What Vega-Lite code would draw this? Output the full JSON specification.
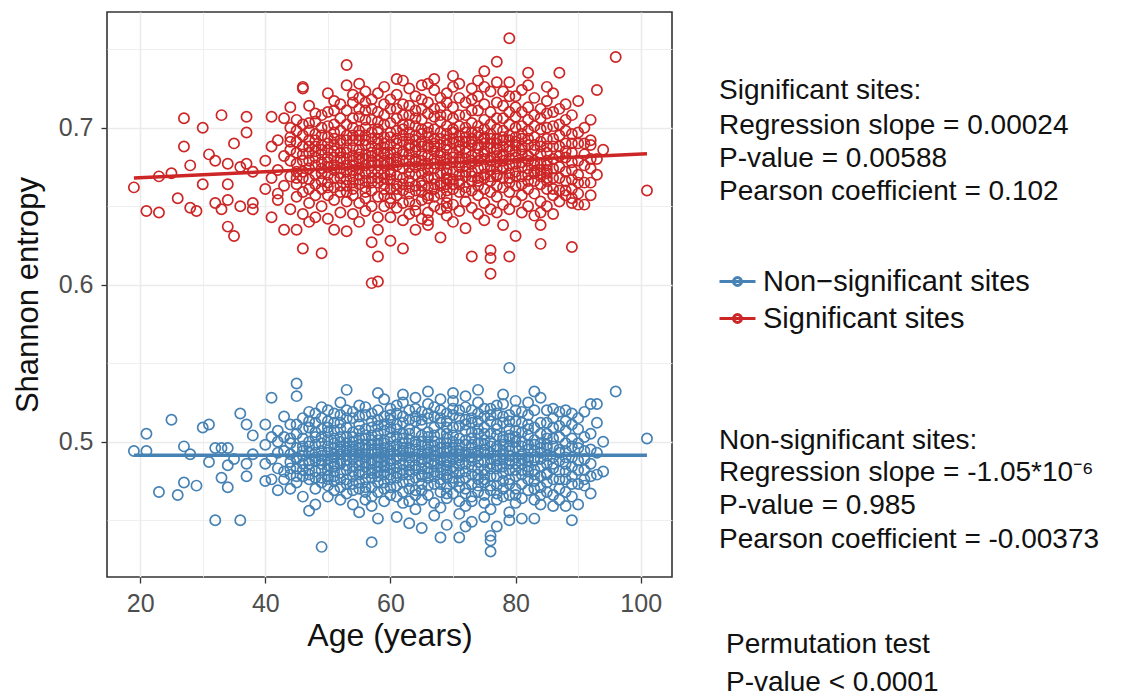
{
"$schema": "https://vega.github.io/schema/vega-lite/v6.json",
"padding": {"left": 11, "top": 11, "right": 0, "bottom": 0},
"background": "white",
"config": {"font": "Liberation Sans", "view": {"stroke": null}, "concat": {"spacing": 46}},
"datasets": {
"sig": [
{"a":19,"e":0.662},{"a":21,"e":0.647},{"a":23,"e":0.646},{"a":23,"e":0.669},{"a":25,"e":0.671},{"a":26,"e":0.655},{"a":27,"e":0.706},{"a":27,"e":0.688},{"a":28,"e":0.676},{"a":28,"e":0.649},{"a":29,"e":0.647},{"a":30,"e":0.700},{"a":30,"e":0.664},{"a":31,"e":0.683},{"a":32,"e":0.679},{"a":32,"e":0.652},{"a":33,"e":0.708},{"a":33,"e":0.648},
{"a":34,"e":0.664},{"a":34,"e":0.654},{"a":34,"e":0.637},{"a":34,"e":0.677},{"a":35,"e":0.690},{"a":35,"e":0.631},{"a":36,"e":0.650},{"a":36,"e":0.675},{"a":37,"e":0.707},{"a":37,"e":0.677},{"a":37,"e":0.697},{"a":38,"e":0.672},{"a":38,"e":0.652},{"a":38,"e":0.648},{"a":40,"e":0.679},{"a":40,"e":0.661},
{"a":41,"e":0.707},{"a":41,"e":0.643},{"a":41,"e":0.668},{"a":41,"e":0.688},{"a":42,"e":0.654},{"a":42,"e":0.658},{"a":42,"e":0.692},{"a":42,"e":0.673},{"a":43,"e":0.706},{"a":43,"e":0.635},{"a":43,"e":0.663},{"a":43,"e":0.682},
{"a":44,"e":0.700},{"a":44,"e":0.669},{"a":44,"e":0.694},{"a":44,"e":0.648},{"a":44,"e":0.686},{"a":44,"e":0.713},
{"a":45,"e":0.635},{"a":45,"e":0.656},{"a":45,"e":0.672},{"a":45,"e":0.684},{"a":45,"e":0.664},{"a":45,"e":0.698},{"a":45,"e":0.677},
{"a":46,"e":0.726},{"a":46,"e":0.725},{"a":46,"e":0.623},{"a":46,"e":0.688},{"a":46,"e":0.668},{"a":46,"e":0.645},{"a":46,"e":0.679},{"a":46,"e":0.702},{"a":46,"e":0.659},
{"a":47,"e":0.692},{"a":47,"e":0.661},{"a":47,"e":0.674},{"a":47,"e":0.684},{"a":47,"e":0.652},{"a":47,"e":0.640},{"a":47,"e":0.703},{"a":47,"e":0.667},
{"a":48,"e":0.704},{"a":48,"e":0.676},{"a":48,"e":0.664},{"a":48,"e":0.688},{"a":48,"e":0.657},{"a":48,"e":0.696},{"a":48,"e":0.643},{"a":48,"e":0.681},
{"a":49,"e":0.620},{"a":49,"e":0.683},{"a":49,"e":0.671},{"a":49,"e":0.661},{"a":49,"e":0.700},{"a":49,"e":0.678},{"a":49,"e":0.650},{"a":49,"e":0.689},{"a":49,"e":0.666},
{"a":50,"e":0.694},{"a":50,"e":0.675},{"a":50,"e":0.665},{"a":50,"e":0.686},{"a":50,"e":0.657},{"a":50,"e":0.710},{"a":50,"e":0.642},{"a":50,"e":0.681},{"a":50,"e":0.670},
{"a":51,"e":0.717},{"a":51,"e":0.673},{"a":51,"e":0.689},{"a":51,"e":0.662},{"a":51,"e":0.654},{"a":51,"e":0.697},{"a":51,"e":0.681},{"a":51,"e":0.668},{"a":51,"e":0.635},{"a":51,"e":0.702},
{"a":52,"e":0.679},{"a":52,"e":0.668},{"a":52,"e":0.692},{"a":52,"e":0.659},{"a":52,"e":0.706},{"a":52,"e":0.646},{"a":52,"e":0.684},{"a":52,"e":0.674},{"a":52,"e":0.690},{"a":52,"e":0.663},
{"a":53,"e":0.740},{"a":53,"e":0.687},{"a":53,"e":0.672},{"a":53,"e":0.663},{"a":53,"e":0.695},{"a":53,"e":0.653},{"a":53,"e":0.680},{"a":53,"e":0.702},{"a":53,"e":0.634},{"a":53,"e":0.676},{"a":53,"e":0.667},
{"a":54,"e":0.716},{"a":54,"e":0.682},{"a":54,"e":0.669},{"a":54,"e":0.692},{"a":54,"e":0.657},{"a":54,"e":0.676},{"a":54,"e":0.700},{"a":54,"e":0.645},{"a":54,"e":0.687},{"a":54,"e":0.661},{"a":54,"e":0.673},
{"a":55,"e":0.719},{"a":55,"e":0.686},{"a":55,"e":0.674},{"a":55,"e":0.664},{"a":55,"e":0.698},{"a":55,"e":0.652},{"a":55,"e":0.681},{"a":55,"e":0.707},{"a":55,"e":0.640},{"a":55,"e":0.692},{"a":55,"e":0.679},{"a":55,"e":0.670},
{"a":56,"e":0.723},{"a":56,"e":0.689},{"a":56,"e":0.676},{"a":56,"e":0.666},{"a":56,"e":0.700},{"a":56,"e":0.655},{"a":56,"e":0.683},{"a":56,"e":0.695},{"a":56,"e":0.647},{"a":56,"e":0.671},{"a":56,"e":0.659},{"a":56,"e":0.711},
{"a":57,"e":0.601},{"a":57,"e":0.684},{"a":57,"e":0.672},{"a":57,"e":0.693},{"a":57,"e":0.660},{"a":57,"e":0.679},{"a":57,"e":0.705},{"a":57,"e":0.650},{"a":57,"e":0.688},{"a":57,"e":0.668},{"a":57,"e":0.627},{"a":57,"e":0.676},
{"a":58,"e":0.618},{"a":58,"e":0.602},{"a":58,"e":0.690},{"a":58,"e":0.676},{"a":58,"e":0.665},{"a":58,"e":0.697},{"a":58,"e":0.656},{"a":58,"e":0.683},{"a":58,"e":0.710},{"a":58,"e":0.643},{"a":58,"e":0.672},{"a":58,"e":0.635},{"a":58,"e":0.686},{"a":58,"e":0.699},
{"a":59,"e":0.687},{"a":59,"e":0.671},{"a":59,"e":0.694},{"a":59,"e":0.661},{"a":59,"e":0.679},{"a":59,"e":0.702},{"a":59,"e":0.650},{"a":59,"e":0.684},{"a":59,"e":0.668},{"a":59,"e":0.715},{"a":59,"e":0.657},{"a":59,"e":0.676},
{"a":60,"e":0.694},{"a":60,"e":0.672},{"a":60,"e":0.661},{"a":60,"e":0.703},{"a":60,"e":0.655},{"a":60,"e":0.684},{"a":60,"e":0.712},{"a":60,"e":0.643},{"a":60,"e":0.677},{"a":60,"e":0.689},{"a":60,"e":0.628},{"a":60,"e":0.667},
{"a":61,"e":0.681},{"a":61,"e":0.669},{"a":61,"e":0.698},{"a":61,"e":0.657},{"a":61,"e":0.676},{"a":61,"e":0.706},{"a":61,"e":0.649},{"a":61,"e":0.693},{"a":61,"e":0.664},{"a":61,"e":0.721},{"a":61,"e":0.686},
{"a":62,"e":0.730},{"a":62,"e":0.691},{"a":62,"e":0.679},{"a":62,"e":0.660},{"a":62,"e":0.699},{"a":62,"e":0.652},{"a":62,"e":0.674},{"a":62,"e":0.708},{"a":62,"e":0.641},{"a":62,"e":0.685},{"a":62,"e":0.623},{"a":62,"e":0.668},
{"a":63,"e":0.683},{"a":63,"e":0.666},{"a":63,"e":0.697},{"a":63,"e":0.658},{"a":63,"e":0.675},{"a":63,"e":0.702},{"a":63,"e":0.645},{"a":63,"e":0.689},{"a":63,"e":0.671},{"a":63,"e":0.714},{"a":63,"e":0.679},{"a":63,"e":0.653},
{"a":64,"e":0.692},{"a":64,"e":0.680},{"a":64,"e":0.663},{"a":64,"e":0.701},{"a":64,"e":0.651},{"a":64,"e":0.678},{"a":64,"e":0.711},{"a":64,"e":0.647},{"a":64,"e":0.670},{"a":64,"e":0.695},{"a":64,"e":0.635},{"a":64,"e":0.685},
{"a":65,"e":0.688},{"a":65,"e":0.671},{"a":65,"e":0.696},{"a":65,"e":0.659},{"a":65,"e":0.683},{"a":65,"e":0.705},{"a":65,"e":0.654},{"a":65,"e":0.691},{"a":65,"e":0.666},{"a":65,"e":0.718},{"a":65,"e":0.676},{"a":65,"e":0.642},
{"a":66,"e":0.682},{"a":66,"e":0.668},{"a":66,"e":0.694},{"a":66,"e":0.655},{"a":66,"e":0.677},{"a":66,"e":0.700},{"a":66,"e":0.646},{"a":66,"e":0.687},{"a":66,"e":0.662},{"a":66,"e":0.709},{"a":66,"e":0.638},{"a":66,"e":0.657},{"a":66,"e":0.641},{"a":66,"e":0.673},
{"a":67,"e":0.693},{"a":67,"e":0.674},{"a":67,"e":0.699},{"a":67,"e":0.661},{"a":67,"e":0.685},{"a":67,"e":0.707},{"a":67,"e":0.650},{"a":67,"e":0.690},{"a":67,"e":0.668},{"a":67,"e":0.724},{"a":67,"e":0.680},{"a":67,"e":0.656},
{"a":68,"e":0.684},{"a":68,"e":0.671},{"a":68,"e":0.697},{"a":68,"e":0.663},{"a":68,"e":0.679},{"a":68,"e":0.704},{"a":68,"e":0.648},{"a":68,"e":0.689},{"a":68,"e":0.665},{"a":68,"e":0.713},{"a":68,"e":0.630},{"a":68,"e":0.676},
{"a":69,"e":0.681},{"a":69,"e":0.667},{"a":69,"e":0.692},{"a":69,"e":0.656},{"a":69,"e":0.673},{"a":69,"e":0.696},{"a":69,"e":0.644},{"a":69,"e":0.686},{"a":69,"e":0.660},{"a":69,"e":0.716},{"a":69,"e":0.649},{"a":69,"e":0.652},{"a":69,"e":0.664},{"a":69,"e":0.671},{"a":69,"e":0.677},
{"a":70,"e":0.733},{"a":70,"e":0.690},{"a":70,"e":0.678},{"a":70,"e":0.699},{"a":70,"e":0.661},{"a":70,"e":0.684},{"a":70,"e":0.706},{"a":70,"e":0.651},{"a":70,"e":0.693},{"a":70,"e":0.667},{"a":70,"e":0.640},{"a":70,"e":0.672},
{"a":71,"e":0.686},{"a":71,"e":0.670},{"a":71,"e":0.695},{"a":71,"e":0.659},{"a":71,"e":0.681},{"a":71,"e":0.701},{"a":71,"e":0.647},{"a":71,"e":0.688},{"a":71,"e":0.664},{"a":71,"e":0.719},{"a":71,"e":0.675},
{"a":72,"e":0.691},{"a":72,"e":0.676},{"a":72,"e":0.700},{"a":72,"e":0.662},{"a":72,"e":0.684},{"a":72,"e":0.708},{"a":72,"e":0.653},{"a":72,"e":0.694},{"a":72,"e":0.669},{"a":72,"e":0.636},{"a":72,"e":0.680},
{"a":73,"e":0.618},{"a":73,"e":0.689},{"a":73,"e":0.672},{"a":73,"e":0.697},{"a":73,"e":0.660},{"a":73,"e":0.682},{"a":73,"e":0.703},{"a":73,"e":0.649},{"a":73,"e":0.691},{"a":73,"e":0.666},{"a":73,"e":0.725},{"a":73,"e":0.677},
{"a":74,"e":0.683},{"a":74,"e":0.668},{"a":74,"e":0.694},{"a":74,"e":0.657},{"a":74,"e":0.679},{"a":74,"e":0.701},{"a":74,"e":0.645},{"a":74,"e":0.687},{"a":74,"e":0.663},{"a":74,"e":0.711},{"a":74,"e":0.674},
{"a":75,"e":0.736},{"a":75,"e":0.690},{"a":75,"e":0.675},{"a":75,"e":0.699},{"a":75,"e":0.661},{"a":75,"e":0.685},{"a":75,"e":0.705},{"a":75,"e":0.652},{"a":75,"e":0.693},{"a":75,"e":0.670},{"a":75,"e":0.641},{"a":75,"e":0.680},
{"a":76,"e":0.622},{"a":76,"e":0.617},{"a":76,"e":0.607},{"a":76,"e":0.687},{"a":76,"e":0.673},{"a":76,"e":0.696},{"a":76,"e":0.659},{"a":76,"e":0.681},{"a":76,"e":0.702},{"a":76,"e":0.648},{"a":76,"e":0.690},{"a":76,"e":0.666},{"a":76,"e":0.676},
{"a":77,"e":0.742},{"a":77,"e":0.682},{"a":77,"e":0.669},{"a":77,"e":0.693},{"a":77,"e":0.656},{"a":77,"e":0.678},{"a":77,"e":0.699},{"a":77,"e":0.646},{"a":77,"e":0.687},{"a":77,"e":0.663},{"a":77,"e":0.716},{"a":77,"e":0.674},
{"a":78,"e":0.688},{"a":78,"e":0.674},{"a":78,"e":0.698},{"a":78,"e":0.662},{"a":78,"e":0.683},{"a":78,"e":0.706},{"a":78,"e":0.651},{"a":78,"e":0.692},{"a":78,"e":0.668},{"a":78,"e":0.638},{"a":78,"e":0.679},
{"a":79,"e":0.757},{"a":79,"e":0.618},{"a":79,"e":0.685},{"a":79,"e":0.671},{"a":79,"e":0.695},{"a":79,"e":0.659},{"a":79,"e":0.680},{"a":79,"e":0.702},{"a":79,"e":0.648},{"a":79,"e":0.688},{"a":79,"e":0.720},{"a":79,"e":0.665},
{"a":80,"e":0.631},{"a":80,"e":0.691},{"a":80,"e":0.677},{"a":80,"e":0.700},{"a":80,"e":0.663},{"a":80,"e":0.685},{"a":80,"e":0.707},{"a":80,"e":0.653},{"a":80,"e":0.694},{"a":80,"e":0.672},
{"a":81,"e":0.683},{"a":81,"e":0.669},{"a":81,"e":0.693},{"a":81,"e":0.657},{"a":81,"e":0.678},{"a":81,"e":0.710},{"a":81,"e":0.646},{"a":81,"e":0.696},{"a":81,"e":0.664},
{"a":82,"e":0.735},{"a":82,"e":0.689},{"a":82,"e":0.674},{"a":82,"e":0.698},{"a":82,"e":0.661},{"a":82,"e":0.682},{"a":82,"e":0.650},{"a":82,"e":0.713},{"a":82,"e":0.670},
{"a":83,"e":0.686},{"a":83,"e":0.671},{"a":83,"e":0.694},{"a":83,"e":0.658},{"a":83,"e":0.701},{"a":83,"e":0.644},{"a":83,"e":0.679},{"a":83,"e":0.666},
{"a":84,"e":0.626},{"a":84,"e":0.646},{"a":84,"e":0.638},{"a":84,"e":0.691},{"a":84,"e":0.677},{"a":84,"e":0.699},{"a":84,"e":0.664},{"a":84,"e":0.706},{"a":84,"e":0.653},{"a":84,"e":0.683},
{"a":85,"e":0.666},{"a":85,"e":0.671},{"a":85,"e":0.676},{"a":85,"e":0.661},{"a":85,"e":0.684},{"a":85,"e":0.693},{"a":85,"e":0.709},{"a":85,"e":0.650},{"a":85,"e":0.726},{"a":85,"e":0.668},{"a":85,"e":0.673},
{"a":86,"e":0.657},{"a":86,"e":0.661},{"a":86,"e":0.688},{"a":86,"e":0.701},{"a":86,"e":0.674},{"a":86,"e":0.645},{"a":86,"e":0.680},
{"a":87,"e":0.735},{"a":87,"e":0.682},{"a":87,"e":0.695},{"a":87,"e":0.668},{"a":87,"e":0.653},{"a":87,"e":0.712},
{"a":88,"e":0.657},{"a":88,"e":0.672},{"a":88,"e":0.690},{"a":88,"e":0.660},{"a":88,"e":0.705},{"a":88,"e":0.681},
{"a":89,"e":0.624},{"a":89,"e":0.655},{"a":89,"e":0.652},{"a":89,"e":0.696},{"a":89,"e":0.678},{"a":89,"e":0.684},{"a":89,"e":0.667},
{"a":90,"e":0.717},{"a":90,"e":0.658},{"a":90,"e":0.670},{"a":90,"e":0.690},{"a":90,"e":0.651},
{"a":91,"e":0.651},{"a":91,"e":0.665},{"a":91,"e":0.700},{"a":91,"e":0.683},
{"a":92,"e":0.705},{"a":92,"e":0.692},{"a":92,"e":0.689},{"a":92,"e":0.657},{"a":92,"e":0.674},
{"a":93,"e":0.724},{"a":93,"e":0.680},{"a":93,"e":0.670},{"a":94,"e":0.686},{"a":96,"e":0.745},{"a":101,"e":0.660},
{"a":44,"e":0.679},{"a":44,"e":0.691},{"a":45,"e":0.691},{"a":45,"e":0.705},{"a":45,"e":0.668},{"a":46,"e":0.672},{"a":46,"e":0.695},{"a":46,"e":0.683},
{"a":47,"e":0.679},{"a":47,"e":0.698},{"a":47,"e":0.714},{"a":47,"e":0.688},{"a":48,"e":0.670},{"a":48,"e":0.692},{"a":48,"e":0.709},{"a":48,"e":0.685},
{"a":49,"e":0.674},{"a":49,"e":0.695},{"a":49,"e":0.708},{"a":49,"e":0.686},{"a":50,"e":0.678},{"a":50,"e":0.690},{"a":50,"e":0.701},{"a":50,"e":0.662},{"a":50,"e":0.722},
{"a":51,"e":0.676},{"a":51,"e":0.693},{"a":51,"e":0.711},{"a":51,"e":0.685},{"a":52,"e":0.671},{"a":52,"e":0.698},{"a":52,"e":0.715},{"a":52,"e":0.681},
{"a":53,"e":0.684},{"a":53,"e":0.692},{"a":53,"e":0.711},{"a":53,"e":0.659},{"a":53,"e":0.727},{"a":54,"e":0.679},{"a":54,"e":0.695},{"a":54,"e":0.706},{"a":54,"e":0.665},{"a":54,"e":0.721},
{"a":55,"e":0.683},{"a":55,"e":0.695},{"a":55,"e":0.712},{"a":55,"e":0.667},{"a":55,"e":0.728},{"a":56,"e":0.680},{"a":56,"e":0.692},{"a":56,"e":0.705},{"a":56,"e":0.662},{"a":56,"e":0.716},
{"a":57,"e":0.682},{"a":57,"e":0.697},{"a":57,"e":0.712},{"a":57,"e":0.665},{"a":57,"e":0.718},{"a":58,"e":0.679},{"a":58,"e":0.693},{"a":58,"e":0.704},{"a":58,"e":0.668},{"a":58,"e":0.722},
{"a":59,"e":0.683},{"a":59,"e":0.690},{"a":59,"e":0.708},{"a":59,"e":0.664},{"a":59,"e":0.726},{"a":60,"e":0.680},{"a":60,"e":0.697},{"a":60,"e":0.718},{"a":60,"e":0.670},{"a":60,"e":0.652},
{"a":61,"e":0.678},{"a":61,"e":0.690},{"a":61,"e":0.712},{"a":61,"e":0.661},{"a":61,"e":0.731},{"a":62,"e":0.683},{"a":62,"e":0.695},{"a":62,"e":0.715},{"a":62,"e":0.664},{"a":62,"e":0.702},
{"a":63,"e":0.687},{"a":63,"e":0.693},{"a":63,"e":0.708},{"a":63,"e":0.662},{"a":63,"e":0.725},{"a":64,"e":0.675},{"a":64,"e":0.688},{"a":64,"e":0.720},{"a":64,"e":0.660},{"a":64,"e":0.706},
{"a":65,"e":0.679},{"a":65,"e":0.699},{"a":65,"e":0.712},{"a":65,"e":0.663},{"a":65,"e":0.727},{"a":66,"e":0.689},{"a":66,"e":0.697},{"a":66,"e":0.716},{"a":66,"e":0.669},{"a":66,"e":0.728},
{"a":67,"e":0.677},{"a":67,"e":0.688},{"a":67,"e":0.712},{"a":67,"e":0.664},{"a":67,"e":0.731},{"a":68,"e":0.682},{"a":68,"e":0.693},{"a":68,"e":0.719},{"a":68,"e":0.658},{"a":68,"e":0.708},
{"a":69,"e":0.689},{"a":69,"e":0.701},{"a":69,"e":0.708},{"a":69,"e":0.668},{"a":69,"e":0.722},{"a":70,"e":0.681},{"a":70,"e":0.697},{"a":70,"e":0.713},{"a":70,"e":0.664},{"a":70,"e":0.726},
{"a":71,"e":0.678},{"a":71,"e":0.691},{"a":71,"e":0.708},{"a":71,"e":0.666},{"a":71,"e":0.728},{"a":72,"e":0.687},{"a":72,"e":0.697},{"a":72,"e":0.716},{"a":72,"e":0.672},{"a":72,"e":0.659},
{"a":73,"e":0.679},{"a":73,"e":0.693},{"a":73,"e":0.711},{"a":73,"e":0.669},{"a":73,"e":0.718},{"a":74,"e":0.689},{"a":74,"e":0.697},{"a":74,"e":0.720},{"a":74,"e":0.666},{"a":74,"e":0.730},
{"a":75,"e":0.683},{"a":75,"e":0.694},{"a":75,"e":0.715},{"a":75,"e":0.668},{"a":75,"e":0.726},{"a":76,"e":0.679},{"a":76,"e":0.693},{"a":76,"e":0.710},{"a":76,"e":0.669},{"a":76,"e":0.723},
{"a":77,"e":0.686},{"a":77,"e":0.690},{"a":77,"e":0.706},{"a":77,"e":0.670},{"a":77,"e":0.729},{"a":78,"e":0.682},{"a":78,"e":0.694},{"a":78,"e":0.714},{"a":78,"e":0.675},{"a":78,"e":0.723},
{"a":79,"e":0.676},{"a":79,"e":0.692},{"a":79,"e":0.710},{"a":79,"e":0.668},{"a":79,"e":0.729},{"a":80,"e":0.681},{"a":80,"e":0.689},{"a":80,"e":0.713},{"a":80,"e":0.669},{"a":80,"e":0.720},
{"a":81,"e":0.675},{"a":81,"e":0.688},{"a":81,"e":0.701},{"a":81,"e":0.686},{"a":81,"e":0.724},{"a":82,"e":0.679},{"a":82,"e":0.693},{"a":82,"e":0.705},{"a":82,"e":0.666},{"a":82,"e":0.727},
{"a":83,"e":0.676},{"a":83,"e":0.689},{"a":83,"e":0.708},{"a":83,"e":0.672},{"a":83,"e":0.719},{"a":84,"e":0.671},{"a":84,"e":0.669},{"a":84,"e":0.673},{"a":84,"e":0.688},{"a":84,"e":0.712},
{"a":85,"e":0.679},{"a":85,"e":0.688},{"a":85,"e":0.700},{"a":85,"e":0.717},{"a":86,"e":0.668},{"a":86,"e":0.693},{"a":86,"e":0.710},{"a":86,"e":0.722},
{"a":87,"e":0.675},{"a":87,"e":0.688},{"a":87,"e":0.702},{"a":87,"e":0.660},{"a":88,"e":0.685},{"a":88,"e":0.698},{"a":88,"e":0.666},{"a":88,"e":0.715},
{"a":89,"e":0.661},{"a":89,"e":0.690},{"a":89,"e":0.708},{"a":89,"e":0.673},{"a":90,"e":0.679},{"a":90,"e":0.697},{"a":90,"e":0.665},{"a":91,"e":0.676},{"a":91,"e":0.690},{"a":92,"e":0.680},{"a":92,"e":0.665}
],
"non": [
{"a":19,"e":0.494},{"a":21,"e":0.494},{"a":21,"e":0.505},{"a":23,"e":0.468},{"a":25,"e":0.514},{"a":26,"e":0.466},{"a":27,"e":0.474},{"a":27,"e":0.497},{"a":28,"e":0.492},{"a":29,"e":0.472},{"a":30,"e":0.509},{"a":31,"e":0.511},{"a":31,"e":0.487},
{"a":32,"e":0.450},{"a":32,"e":0.496},{"a":33,"e":0.477},{"a":33,"e":0.496},{"a":34,"e":0.471},{"a":34,"e":0.485},{"a":34,"e":0.496},{"a":35,"e":0.489},{"a":36,"e":0.450},{"a":36,"e":0.518},{"a":37,"e":0.511},{"a":37,"e":0.478},{"a":37,"e":0.486},{"a":38,"e":0.504},{"a":38,"e":0.492},
{"a":40,"e":0.511},{"a":40,"e":0.475},{"a":40,"e":0.498},{"a":40,"e":0.486},{"a":41,"e":0.528},{"a":41,"e":0.489},{"a":41,"e":0.476},{"a":41,"e":0.503},
{"a":42,"e":0.500},{"a":42,"e":0.483},{"a":42,"e":0.507},{"a":42,"e":0.469},{"a":42,"e":0.493},{"a":43,"e":0.476},{"a":43,"e":0.494},{"a":43,"e":0.516},{"a":43,"e":0.503},{"a":43,"e":0.481},
{"a":44,"e":0.487},{"a":44,"e":0.499},{"a":44,"e":0.511},{"a":44,"e":0.470},{"a":44,"e":0.492},{"a":44,"e":0.479},
{"a":45,"e":0.474},{"a":45,"e":0.537},{"a":45,"e":0.529},{"a":45,"e":0.496},{"a":45,"e":0.505},{"a":45,"e":0.483},{"a":45,"e":0.490},
{"a":46,"e":0.491},{"a":46,"e":0.515},{"a":46,"e":0.478},{"a":46,"e":0.502},{"a":46,"e":0.465},{"a":46,"e":0.486},{"a":46,"e":0.497},
{"a":47,"e":0.456},{"a":47,"e":0.488},{"a":47,"e":0.509},{"a":47,"e":0.497},{"a":47,"e":0.476},{"a":47,"e":0.519},{"a":47,"e":0.482},{"a":47,"e":0.493},
{"a":48,"e":0.493},{"a":48,"e":0.481},{"a":48,"e":0.503},{"a":48,"e":0.470},{"a":48,"e":0.512},{"a":48,"e":0.460},{"a":48,"e":0.488},{"a":48,"e":0.498},
{"a":49,"e":0.433},{"a":49,"e":0.499},{"a":49,"e":0.486},{"a":49,"e":0.477},{"a":49,"e":0.508},{"a":49,"e":0.494},{"a":49,"e":0.522},{"a":49,"e":0.482},{"a":49,"e":0.491},
{"a":50,"e":0.489},{"a":50,"e":0.501},{"a":50,"e":0.472},{"a":50,"e":0.513},{"a":50,"e":0.482},{"a":50,"e":0.465},{"a":50,"e":0.497},{"a":50,"e":0.478},{"a":50,"e":0.506},
{"a":51,"e":0.496},{"a":51,"e":0.484},{"a":51,"e":0.507},{"a":51,"e":0.478},{"a":51,"e":0.518},{"a":51,"e":0.490},{"a":51,"e":0.469},{"a":51,"e":0.502},{"a":51,"e":0.481},
{"a":52,"e":0.492},{"a":52,"e":0.503},{"a":52,"e":0.480},{"a":52,"e":0.512},{"a":52,"e":0.471},{"a":52,"e":0.497},{"a":52,"e":0.525},{"a":52,"e":0.486},{"a":52,"e":0.463},{"a":52,"e":0.508},
{"a":53,"e":0.533},{"a":53,"e":0.488},{"a":53,"e":0.499},{"a":53,"e":0.476},{"a":53,"e":0.509},{"a":53,"e":0.467},{"a":53,"e":0.494},{"a":53,"e":0.482},{"a":53,"e":0.515},{"a":53,"e":0.491},
{"a":54,"e":0.495},{"a":54,"e":0.484},{"a":54,"e":0.506},{"a":54,"e":0.473},{"a":54,"e":0.515},{"a":54,"e":0.489},{"a":54,"e":0.460},{"a":54,"e":0.500},{"a":54,"e":0.478},{"a":54,"e":0.492},
{"a":55,"e":0.491},{"a":55,"e":0.502},{"a":55,"e":0.479},{"a":55,"e":0.511},{"a":55,"e":0.470},{"a":55,"e":0.496},{"a":55,"e":0.523},{"a":55,"e":0.485},{"a":55,"e":0.455},{"a":55,"e":0.507},{"a":55,"e":0.488},
{"a":56,"e":0.498},{"a":56,"e":0.487},{"a":56,"e":0.508},{"a":56,"e":0.476},{"a":56,"e":0.517},{"a":56,"e":0.492},{"a":56,"e":0.463},{"a":56,"e":0.502},{"a":56,"e":0.480},{"a":56,"e":0.495},{"a":56,"e":0.471},
{"a":57,"e":0.436},{"a":57,"e":0.493},{"a":57,"e":0.482},{"a":57,"e":0.504},{"a":57,"e":0.471},{"a":57,"e":0.513},{"a":57,"e":0.488},{"a":57,"e":0.498},{"a":57,"e":0.459},{"a":57,"e":0.477},{"a":57,"e":0.509},{"a":57,"e":0.486},
{"a":58,"e":0.531},{"a":58,"e":0.490},{"a":58,"e":0.501},{"a":58,"e":0.478},{"a":58,"e":0.510},{"a":58,"e":0.468},{"a":58,"e":0.495},{"a":58,"e":0.520},{"a":58,"e":0.484},{"a":58,"e":0.451},{"a":58,"e":0.487},{"a":58,"e":0.505},
{"a":59,"e":0.496},{"a":59,"e":0.485},{"a":59,"e":0.507},{"a":59,"e":0.474},{"a":59,"e":0.516},{"a":59,"e":0.491},{"a":59,"e":0.462},{"a":59,"e":0.501},{"a":59,"e":0.481},{"a":59,"e":0.527},{"a":59,"e":0.479},{"a":59,"e":0.493},
{"a":60,"e":0.502},{"a":60,"e":0.488},{"a":60,"e":0.514},{"a":60,"e":0.476},{"a":60,"e":0.497},{"a":60,"e":0.466},{"a":60,"e":0.509},{"a":60,"e":0.483},{"a":60,"e":0.521},{"a":60,"e":0.492},{"a":60,"e":0.471},
{"a":61,"e":0.489},{"a":61,"e":0.477},{"a":61,"e":0.503},{"a":61,"e":0.465},{"a":61,"e":0.511},{"a":61,"e":0.495},{"a":61,"e":0.452},{"a":61,"e":0.498},{"a":61,"e":0.484},{"a":61,"e":0.518},
{"a":62,"e":0.505},{"a":62,"e":0.491},{"a":62,"e":0.516},{"a":62,"e":0.479},{"a":62,"e":0.525},{"a":62,"e":0.486},{"a":62,"e":0.468},{"a":62,"e":0.499},{"a":62,"e":0.474},{"a":62,"e":0.530},{"a":62,"e":0.494},
{"a":63,"e":0.487},{"a":63,"e":0.475},{"a":63,"e":0.501},{"a":63,"e":0.462},{"a":63,"e":0.508},{"a":63,"e":0.493},{"a":63,"e":0.448},{"a":63,"e":0.496},{"a":63,"e":0.482},{"a":63,"e":0.514},{"a":63,"e":0.470},
{"a":64,"e":0.500},{"a":64,"e":0.485},{"a":64,"e":0.513},{"a":64,"e":0.469},{"a":64,"e":0.521},{"a":64,"e":0.490},{"a":64,"e":0.457},{"a":64,"e":0.506},{"a":64,"e":0.477},{"a":64,"e":0.528},
{"a":65,"e":0.492},{"a":65,"e":0.478},{"a":65,"e":0.504},{"a":65,"e":0.463},{"a":65,"e":0.511},{"a":65,"e":0.497},{"a":65,"e":0.445},{"a":65,"e":0.489},{"a":65,"e":0.483},{"a":65,"e":0.519},{"a":65,"e":0.473},
{"a":66,"e":0.503},{"a":66,"e":0.490},{"a":66,"e":0.515},{"a":66,"e":0.480},{"a":66,"e":0.524},{"a":66,"e":0.487},{"a":66,"e":0.466},{"a":66,"e":0.498},{"a":66,"e":0.472},{"a":66,"e":0.532},{"a":66,"e":0.495},
{"a":67,"e":0.486},{"a":67,"e":0.473},{"a":67,"e":0.500},{"a":67,"e":0.461},{"a":67,"e":0.509},{"a":67,"e":0.494},{"a":67,"e":0.453},{"a":67,"e":0.491},{"a":67,"e":0.481},{"a":67,"e":0.516},
{"a":68,"e":0.499},{"a":68,"e":0.484},{"a":68,"e":0.512},{"a":68,"e":0.468},{"a":68,"e":0.520},{"a":68,"e":0.488},{"a":68,"e":0.458},{"a":68,"e":0.505},{"a":68,"e":0.476},{"a":68,"e":0.527},{"a":68,"e":0.439},{"a":68,"e":0.493},
{"a":69,"e":0.490},{"a":69,"e":0.477},{"a":69,"e":0.505},{"a":69,"e":0.464},{"a":69,"e":0.513},{"a":69,"e":0.496},{"a":69,"e":0.447},{"a":69,"e":0.487},{"a":69,"e":0.482},{"a":69,"e":0.518},{"a":69,"e":0.471},{"a":69,"e":0.499},{"a":69,"e":0.485},
{"a":70,"e":0.504},{"a":70,"e":0.492},{"a":70,"e":0.517},{"a":70,"e":0.481},{"a":70,"e":0.526},{"a":70,"e":0.489},{"a":70,"e":0.467},{"a":70,"e":0.500},{"a":70,"e":0.474},{"a":70,"e":0.531},
{"a":71,"e":0.488},{"a":71,"e":0.475},{"a":71,"e":0.502},{"a":71,"e":0.462},{"a":71,"e":0.510},{"a":71,"e":0.494},{"a":71,"e":0.454},{"a":71,"e":0.492},{"a":71,"e":0.480},{"a":71,"e":0.515},{"a":71,"e":0.439},
{"a":72,"e":0.501},{"a":72,"e":0.486},{"a":72,"e":0.514},{"a":72,"e":0.470},{"a":72,"e":0.522},{"a":72,"e":0.491},{"a":72,"e":0.459},{"a":72,"e":0.507},{"a":72,"e":0.477},{"a":72,"e":0.529},{"a":72,"e":0.446},
{"a":73,"e":0.493},{"a":73,"e":0.479},{"a":73,"e":0.506},{"a":73,"e":0.465},{"a":73,"e":0.512},{"a":73,"e":0.498},{"a":73,"e":0.449},{"a":73,"e":0.490},{"a":73,"e":0.484},{"a":73,"e":0.520},{"a":73,"e":0.473},
{"a":74,"e":0.505},{"a":74,"e":0.491},{"a":74,"e":0.518},{"a":74,"e":0.479},{"a":74,"e":0.525},{"a":74,"e":0.487},{"a":74,"e":0.468},{"a":74,"e":0.499},{"a":74,"e":0.472},{"a":74,"e":0.533},
{"a":75,"e":0.487},{"a":75,"e":0.474},{"a":75,"e":0.501},{"a":75,"e":0.461},{"a":75,"e":0.509},{"a":75,"e":0.495},{"a":75,"e":0.452},{"a":75,"e":0.493},{"a":75,"e":0.482},{"a":75,"e":0.516},{"a":75,"e":0.476},
{"a":76,"e":0.430},{"a":76,"e":0.437},{"a":76,"e":0.440},{"a":76,"e":0.500},{"a":76,"e":0.486},{"a":76,"e":0.513},{"a":76,"e":0.469},{"a":76,"e":0.521},{"a":76,"e":0.489},{"a":76,"e":0.457},{"a":76,"e":0.505},{"a":76,"e":0.478},
{"a":77,"e":0.491},{"a":77,"e":0.478},{"a":77,"e":0.504},{"a":77,"e":0.463},{"a":77,"e":0.511},{"a":77,"e":0.497},{"a":77,"e":0.446},{"a":77,"e":0.488},{"a":77,"e":0.483},{"a":77,"e":0.518},{"a":77,"e":0.472},
{"a":78,"e":0.503},{"a":78,"e":0.489},{"a":78,"e":0.516},{"a":78,"e":0.480},{"a":78,"e":0.524},{"a":78,"e":0.492},{"a":78,"e":0.465},{"a":78,"e":0.501},{"a":78,"e":0.475},{"a":78,"e":0.530},
{"a":79,"e":0.547},{"a":79,"e":0.450},{"a":79,"e":0.488},{"a":79,"e":0.476},{"a":79,"e":0.502},{"a":79,"e":0.466},{"a":79,"e":0.508},{"a":79,"e":0.494},{"a":79,"e":0.455},{"a":79,"e":0.497},{"a":79,"e":0.482},{"a":79,"e":0.517},
{"a":80,"e":0.500},{"a":80,"e":0.486},{"a":80,"e":0.513},{"a":80,"e":0.470},{"a":80,"e":0.520},{"a":80,"e":0.490},{"a":80,"e":0.461},{"a":80,"e":0.507},{"a":80,"e":0.478},
{"a":81,"e":0.492},{"a":81,"e":0.479},{"a":81,"e":0.506},{"a":81,"e":0.464},{"a":81,"e":0.512},{"a":81,"e":0.497},{"a":81,"e":0.451},{"a":81,"e":0.486},
{"a":82,"e":0.504},{"a":82,"e":0.490},{"a":82,"e":0.517},{"a":82,"e":0.481},{"a":82,"e":0.525},{"a":82,"e":0.488},{"a":82,"e":0.469},{"a":82,"e":0.498},
{"a":83,"e":0.532},{"a":83,"e":0.451},{"a":83,"e":0.488},{"a":83,"e":0.475},{"a":83,"e":0.501},{"a":83,"e":0.463},{"a":83,"e":0.509},{"a":83,"e":0.494},{"a":83,"e":0.482},
{"a":84,"e":0.528},{"a":84,"e":0.499},{"a":84,"e":0.484},{"a":84,"e":0.512},{"a":84,"e":0.471},{"a":84,"e":0.493},{"a":84,"e":0.478},{"a":84,"e":0.460},
{"a":85,"e":0.491},{"a":85,"e":0.480},{"a":85,"e":0.505},{"a":85,"e":0.468},{"a":85,"e":0.496},{"a":85,"e":0.474},{"a":85,"e":0.502},{"a":85,"e":0.486},
{"a":86,"e":0.497},{"a":86,"e":0.483},{"a":86,"e":0.509},{"a":86,"e":0.466},{"a":86,"e":0.515},{"a":86,"e":0.490},{"a":86,"e":0.459},
{"a":87,"e":0.488},{"a":87,"e":0.476},{"a":87,"e":0.503},{"a":87,"e":0.470},{"a":87,"e":0.519},{"a":87,"e":0.495},
{"a":88,"e":0.459},{"a":88,"e":0.494},{"a":88,"e":0.481},{"a":88,"e":0.507},{"a":88,"e":0.468},{"a":88,"e":0.513},{"a":88,"e":0.486},
{"a":89,"e":0.490},{"a":89,"e":0.478},{"a":89,"e":0.502},{"a":89,"e":0.465},{"a":89,"e":0.511},{"a":89,"e":0.450},{"a":89,"e":0.484},
{"a":90,"e":0.496},{"a":90,"e":0.482},{"a":90,"e":0.508},{"a":90,"e":0.473},{"a":90,"e":0.499},
{"a":91,"e":0.472},{"a":91,"e":0.519},{"a":91,"e":0.489},{"a":91,"e":0.476},{"a":91,"e":0.503},
{"a":92,"e":0.524},{"a":92,"e":0.486},{"a":92,"e":0.467},{"a":92,"e":0.495},
{"a":93,"e":0.479},{"a":93,"e":0.524},{"a":93,"e":0.493},{"a":93,"e":0.512},{"a":94,"e":0.481},{"a":94,"e":0.500},{"a":96,"e":0.532},{"a":101,"e":0.502},
{"a":44,"e":0.483},{"a":44,"e":0.502},{"a":45,"e":0.478},{"a":45,"e":0.511},{"a":45,"e":0.489},{"a":46,"e":0.494},{"a":46,"e":0.508},{"a":46,"e":0.482},
{"a":47,"e":0.486},{"a":47,"e":0.500},{"a":47,"e":0.513},{"a":47,"e":0.479},{"a":48,"e":0.490},{"a":48,"e":0.506},{"a":48,"e":0.477},{"a":48,"e":0.518},
{"a":49,"e":0.488},{"a":49,"e":0.503},{"a":49,"e":0.515},{"a":49,"e":0.474},{"a":50,"e":0.493},{"a":50,"e":0.509},{"a":50,"e":0.485},{"a":50,"e":0.520},{"a":50,"e":0.476},
{"a":51,"e":0.492},{"a":51,"e":0.499},{"a":51,"e":0.512},{"a":51,"e":0.486},{"a":51,"e":0.475},{"a":52,"e":0.488},{"a":52,"e":0.495},{"a":52,"e":0.517},{"a":52,"e":0.476},{"a":52,"e":0.500},
{"a":53,"e":0.485},{"a":53,"e":0.503},{"a":53,"e":0.520},{"a":53,"e":0.473},{"a":53,"e":0.496},{"a":54,"e":0.497},{"a":54,"e":0.503},{"a":54,"e":0.519},{"a":54,"e":0.481},{"a":54,"e":0.469},
{"a":55,"e":0.493},{"a":55,"e":0.498},{"a":55,"e":0.516},{"a":55,"e":0.481},{"a":55,"e":0.474},{"a":56,"e":0.490},{"a":56,"e":0.504},{"a":56,"e":0.522},{"a":56,"e":0.484},{"a":56,"e":0.468},
{"a":57,"e":0.495},{"a":57,"e":0.501},{"a":57,"e":0.518},{"a":57,"e":0.480},{"a":57,"e":0.465},{"a":58,"e":0.493},{"a":58,"e":0.498},{"a":58,"e":0.514},{"a":58,"e":0.481},{"a":58,"e":0.474},
{"a":59,"e":0.488},{"a":59,"e":0.499},{"a":59,"e":0.511},{"a":59,"e":0.484},{"a":59,"e":0.470},{"a":60,"e":0.494},{"a":60,"e":0.506},{"a":60,"e":0.517},{"a":60,"e":0.479},{"a":60,"e":0.486},
{"a":61,"e":0.491},{"a":61,"e":0.508},{"a":61,"e":0.523},{"a":61,"e":0.480},{"a":61,"e":0.472},{"a":62,"e":0.496},{"a":62,"e":0.502},{"a":62,"e":0.512},{"a":62,"e":0.482},{"a":62,"e":0.461},
{"a":63,"e":0.490},{"a":63,"e":0.505},{"a":63,"e":0.520},{"a":63,"e":0.479},{"a":63,"e":0.485},{"a":64,"e":0.495},{"a":64,"e":0.498},{"a":64,"e":0.516},{"a":64,"e":0.482},{"a":64,"e":0.466},
{"a":65,"e":0.487},{"a":65,"e":0.500},{"a":65,"e":0.514},{"a":65,"e":0.479},{"a":65,"e":0.469},{"a":66,"e":0.493},{"a":66,"e":0.506},{"a":66,"e":0.518},{"a":66,"e":0.483},{"a":66,"e":0.477},
{"a":67,"e":0.497},{"a":67,"e":0.504},{"a":67,"e":0.522},{"a":67,"e":0.478},{"a":67,"e":0.488},{"a":68,"e":0.489},{"a":68,"e":0.496},{"a":68,"e":0.515},{"a":68,"e":0.480},{"a":68,"e":0.473},
{"a":69,"e":0.494},{"a":69,"e":0.502},{"a":69,"e":0.509},{"a":69,"e":0.479},{"a":69,"e":0.467},{"a":70,"e":0.496},{"a":70,"e":0.509},{"a":70,"e":0.521},{"a":70,"e":0.484},{"a":70,"e":0.477},
{"a":71,"e":0.490},{"a":71,"e":0.498},{"a":71,"e":0.520},{"a":71,"e":0.485},{"a":71,"e":0.471},{"a":72,"e":0.493},{"a":72,"e":0.498},{"a":72,"e":0.511},{"a":72,"e":0.481},{"a":72,"e":0.467},
{"a":73,"e":0.496},{"a":73,"e":0.502},{"a":73,"e":0.515},{"a":73,"e":0.488},{"a":73,"e":0.462},{"a":74,"e":0.494},{"a":74,"e":0.508},{"a":74,"e":0.513},{"a":74,"e":0.483},{"a":74,"e":0.476},
{"a":75,"e":0.498},{"a":75,"e":0.505},{"a":75,"e":0.521},{"a":75,"e":0.479},{"a":75,"e":0.466},{"a":76,"e":0.493},{"a":76,"e":0.497},{"a":76,"e":0.517},{"a":76,"e":0.483},{"a":76,"e":0.472},
{"a":77,"e":0.495},{"a":77,"e":0.508},{"a":77,"e":0.523},{"a":77,"e":0.485},{"a":77,"e":0.467},{"a":78,"e":0.494},{"a":78,"e":0.498},{"a":78,"e":0.512},{"a":78,"e":0.484},{"a":78,"e":0.470},
{"a":79,"e":0.491},{"a":79,"e":0.504},{"a":79,"e":0.513},{"a":79,"e":0.486},{"a":79,"e":0.473},{"a":80,"e":0.496},{"a":80,"e":0.503},{"a":80,"e":0.526},{"a":80,"e":0.482},{"a":80,"e":0.466},
{"a":81,"e":0.489},{"a":81,"e":0.500},{"a":81,"e":0.519},{"a":81,"e":0.473},{"a":81,"e":0.482},{"a":82,"e":0.495},{"a":82,"e":0.508},{"a":82,"e":0.511},{"a":82,"e":0.476},{"a":82,"e":0.484},
{"a":83,"e":0.490},{"a":83,"e":0.498},{"a":83,"e":0.520},{"a":83,"e":0.479},{"a":83,"e":0.470},{"a":84,"e":0.496},{"a":84,"e":0.505},{"a":84,"e":0.489},{"a":84,"e":0.466},
{"a":85,"e":0.498},{"a":85,"e":0.512},{"a":85,"e":0.479},{"a":85,"e":0.520},{"a":86,"e":0.486},{"a":86,"e":0.502},{"a":86,"e":0.476},{"a":86,"e":0.521},
{"a":87,"e":0.493},{"a":87,"e":0.510},{"a":87,"e":0.481},{"a":87,"e":0.463},{"a":88,"e":0.499},{"a":88,"e":0.476},{"a":88,"e":0.520},{"a":88,"e":0.490},
{"a":89,"e":0.497},{"a":89,"e":0.473},{"a":89,"e":0.518},{"a":90,"e":0.488},{"a":90,"e":0.515},{"a":90,"e":0.460},{"a":91,"e":0.494},{"a":91,"e":0.482},{"a":92,"e":0.478},{"a":92,"e":0.505}
],
"fit": [
{"g":"Significant sites","a":19,"e":0.668},{"g":"Significant sites","a":101,"e":0.6834},
{"g":"Non−significant sites","a":19,"e":0.4913},{"g":"Non−significant sites","a":101,"e":0.4913}
],
"notes": [
{"b":1,"ln":2.59,"t":"Significant sites:"},
{"b":1,"ln":3.63,"t":"Regression slope = 0.00024"},
{"b":1,"ln":4.63,"t":"P-value = 0.00588"},
{"b":1,"ln":5.62,"t":"Pearson coefficient = 0.102"},
{"b":2,"ln":13.04,"t":"Non-significant sites:"},
{"b":2,"ln":14.0,"t":"Regression slope = -1.05*10⁻⁶"},
{"b":2,"ln":14.99,"t":"P-value = 0.985"},
{"b":2,"ln":16.0,"t":"Pearson coefficient = -0.00373"},
{"b":3,"ln":19.13,"t":"Permutation test"},
{"b":3,"ln":20.27,"t":"P-value < 0.0001"}
]
},
"hconcat": [
{
"width": 565,
"height": 565,
"view": {"stroke": "#333333", "strokeWidth": 1.6},
"encoding": {
"x": {"field": "a", "type": "quantitative",
"scale": {"domain": [14.7, 105.0], "nice": false, "zero": false},
"axis": {"values": [20,30,40,50,60,70,80,90,100], "title": "Age (years)", "titleFontSize": 32, "titleFontWeight": "normal", "titleColor": "#111111", "titlePadding": 4,
"labelFontSize": 25, "labelColor": "#4D4D4D", "labelPadding": 8, "labelFlush": false, "labelOverlap": false,
"labelExpr": "datum.value % 20 == 0 ? datum.label : ''",
"tickSize": 6, "tickColor": "#333333", "tickWidth": 1.3,
"tickOpacity": {"condition": {"test": "datum.value % 20 != 0", "value": 0}, "value": 1},
"domain": false, "grid": true, "gridColor": "#EBEBEB",
"gridWidth": {"condition": {"test": "datum.value % 20 != 0", "value": 0.8}, "value": 1.6}}},
"y": {"field": "e", "type": "quantitative",
"scale": {"domain": [0.4138, 0.7737], "nice": false, "zero": false},
"axis": {"values": [0.45,0.5,0.55,0.6,0.65,0.7,0.75], "title": "Shannon entropy", "titleFontSize": 31, "titleFontWeight": "normal", "titleColor": "#111111", "titlePadding": 14,
"labelFontSize": 25, "labelColor": "#4D4D4D", "labelPadding": 8, "labelFlush": false, "labelOverlap": false,
"labelExpr": "abs(datum.value*10 - round(datum.value*10)) < 0.01 ? format(datum.value, '.1f') : ''",
"tickSize": 6, "tickColor": "#333333", "tickWidth": 1.3,
"tickOpacity": {"condition": {"test": "abs(datum.value*10 - round(datum.value*10)) > 0.01", "value": 0}, "value": 1},
"domain": false, "grid": true, "gridColor": "#EBEBEB",
"gridWidth": {"condition": {"test": "abs(datum.value*10 - round(datum.value*10)) > 0.01", "value": 0.8}, "value": 1.6}}}
},
"layer": [
{"data": {"name": "non"}, "mark": {"type": "point", "filled": false, "size": 105, "strokeWidth": 1.7, "opacity": 1},
"encoding": {"color": {"datum": "Non−significant sites", "type": "nominal", "title": null,
"scale": {"domain": ["Non−significant sites", "Significant sites"], "range": ["#4682B4", "#CD2626"]},
"legend": {"orient": "none", "legendX": 611, "legendY": 250, "title": null, "padding": 0,
"symbolType": "M-1,0L1,0M-0.22,0A0.22,0.22 0 1,0 0.22,0A0.22,0.22 0 1,0 -0.22,0",
"symbolSize": 1296, "symbolStrokeWidth": 3, "labelFontSize": 29, "labelColor": "#111111", "labelOffset": 6, "labelLimit": 600, "rowPadding": 2}}}},
{"data": {"name": "sig"}, "mark": {"type": "point", "filled": false, "size": 105, "strokeWidth": 1.7, "opacity": 1},
"encoding": {"color": {"datum": "Significant sites", "type": "nominal", "title": null}}},
{"data": {"name": "fit"}, "mark": {"type": "line", "strokeWidth": 3.5},
"encoding": {"color": {"field": "g", "type": "nominal", "title": null}}}
]
},
{
"width": 400,
"height": 687,
"view": {"stroke": null},
"data": {"name": "notes"},
"encoding": {
"x": {"datum": 0, "type": "quantitative", "scale": {"domain": [0, 1], "nice": false, "zero": false}, "axis": null},
"y": {"field": "ln", "type": "quantitative", "scale": {"domain": [0, 20.5], "reverse": true, "nice": false, "zero": false}, "axis": null},
"text": {"field": "t"}
},
"layer": [
{"transform": [{"filter": "datum.b != 3"}], "mark": {"type": "text", "align": "left", "baseline": "alphabetic", "fontSize": 28, "color": "#111111"}},
{"transform": [{"filter": "datum.b == 3"}], "mark": {"type": "text", "align": "left", "baseline": "alphabetic", "fontSize": 28, "color": "#111111", "dx": 7}}
]
}
]
}
